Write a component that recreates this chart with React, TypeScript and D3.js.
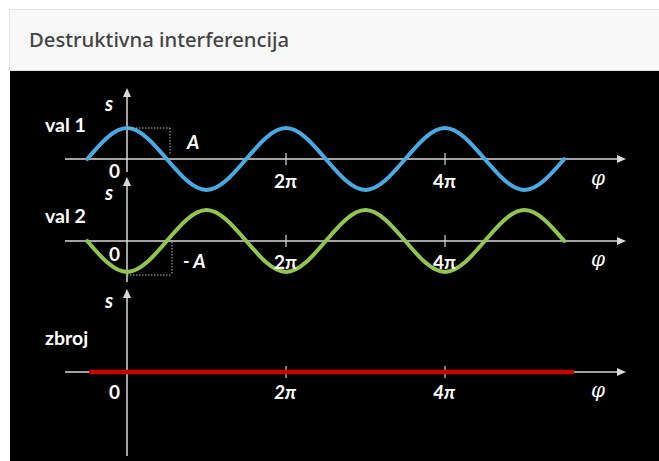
import React, { useEffect, useRef } from 'react';
import * as d3 from 'd3';

// phase in units of pi, sampled every half period
const phi = [-0.5, 0, 0.5, 1, 1.5, 2, 2.5, 3, 3.5, 4, 4.5, 5, 5.5];
const wave1 = [0, 1, 0, -1, 0, 1, 0, -1, 0, 1, 0, -1, 0];
const wave2 = [0, -1, 0, 1, 0, -1, 0, 1, 0, -1, 0, 1, 0];
const sumPhi = [-0.45, 5.6];
const sumValues = [0, 0];
const tickValues = [0, 2, 4];
const tickLabels = ['0', '2π', '4π'];
const panelNames = ['val 1', 'val 2', 'zbroj'];

const W = 659;
const H = 461;

const App = () => {
  const ref = useRef<SVGSVGElement | null>(null);

  useEffect(() => {
    const svg = d3.select(ref.current);
    svg.selectAll('*').remove();

    // card header
    svg.append('rect').attr('x', 9.5).attr('y', 9.5).attr('width', W).attr('height', 61)
      .attr('fill', '#f8f8f8').attr('stroke', '#e4e4e4');
    svg.append('text').attr('x', 29).attr('y', 47)
      .attr('font-family', "'Noto Sans', sans-serif").attr('font-size', 19).attr('font-weight', 500)
      .attr('fill', '#444').attr('textLength', 260).attr('lengthAdjust', 'spacingAndGlyphs')
      .text('Destruktivna interferencija');

    // black picture
    svg.append('rect').attr('x', 10).attr('y', 71).attr('width', W - 10).attr('height', H - 71).attr('fill', '#000');

    const x = d3.scaleLinear().domain([0, 4]).range([127, 445]);
    const axisColor = '#d9d9d9';
    const font = "Lato, 'Noto Sans', sans-serif";

    const panels = [
      { data: wave1, phase: phi, color: '#4aa9e0', y: d3.scaleLinear().domain([-1, 1]).range([190, 128]), vTop: 88, vBot: 172, labelY: 132, sY: 111, numY: 188, italicTicks: false, phiY: 185, zeroY: 178 },
      { data: wave2, phase: phi, color: '#92c353', y: d3.scaleLinear().domain([-1, 1]).range([272, 210]), vTop: 177, vBot: 282, labelY: 223, sY: 200, numY: 269, italicTicks: false, phiY: 266, zeroY: 261 },
      { data: sumValues, phase: sumPhi, color: '#c80000', y: d3.scaleLinear().domain([-1, 1]).range([403, 341]), vTop: 289, vBot: 456, labelY: 345, sY: 308, numY: 399, italicTicks: true, phiY: 397, zeroY: 399 },
    ];

    const arrow = (px: number, py: number, dir: 'up' | 'right') => {
      const p = dir === 'up'
        ? [[px, py], [px - 4, py + 9], [px + 4, py + 9]]
        : [[px, py], [px - 9, py - 4], [px - 9, py + 4]];
      svg.append('polygon').attr('points', p.map(d => d.join(',')).join(' ')).attr('fill', axisColor);
    };

    panels.forEach((pn, i) => {
      const y0 = pn.y(0);
      // horizontal axis
      svg.append('line').attr('x1', 65).attr('x2', 618).attr('y1', y0).attr('y2', y0)
        .attr('stroke', axisColor).attr('stroke-width', 1.5);
      arrow(626, y0, 'right');
      // vertical axis
      svg.append('line').attr('x1', x(0)).attr('x2', x(0)).attr('y1', pn.vTop + 6).attr('y2', pn.vBot)
        .attr('stroke', axisColor).attr('stroke-width', 1.5);
      arrow(x(0), pn.vTop, 'up');
      // ticks at 2pi, 4pi
      tickValues.slice(1).forEach(t => {
        svg.append('line').attr('x1', x(t)).attr('x2', x(t)).attr('y1', y0 - 6).attr('y2', y0 + 6)
          .attr('stroke', axisColor).attr('stroke-width', 1.2);
      });

      // curve
      const pts = pn.data.map((v, j) => [pn.phase[j], v] as [number, number]);
      const line = d3.line<[number, number]>()
        .x(d => x(d[0])).y(d => pn.y(d[1]))
        .curve(d3.curveNatural);
      svg.append('path').attr('d', line(pts)).attr('fill', 'none')
        .attr('stroke', pn.color).attr('stroke-width', i === 2 ? 4.5 : 4).attr('stroke-linecap', 'round');

      // labels
      svg.append('text').attr('x', 45).attr('y', pn.labelY)
        .attr('font-family', font).attr('font-weight', 700).attr('font-size', 19.5).attr('fill', '#fff')
        .text(panelNames[i]);
      svg.append('text').attr('x', 105).attr('y', pn.sY)
        .attr('font-family', font).attr('font-weight', 700).attr('font-style', 'italic').attr('font-size', 20).attr('fill', '#fff')
        .text('s');
      tickLabels.forEach((lab, k) => {
        const t = tickValues[k];
        svg.append('text')
          .attr('x', t === 0 ? 109 : x(t) - 12)
          .attr('y', t === 0 ? pn.zeroY : pn.numY)
          .attr('font-family', font).attr('font-weight', 700).attr('font-size', 19).attr('fill', '#fff')
          .attr('font-style', pn.italicTicks && t !== 0 ? 'italic' : 'normal')
          .text(lab);
      });
      svg.append('text').attr('x', 591).attr('y', pn.phiY)
        .attr('font-family', "'DejaVu Serif', serif").attr('font-style', 'italic').attr('font-size', 20).attr('fill', '#fff')
        .text('φ');
    });

    // amplitude markers
    const dotted = (x1: number, y1: number, x2: number, y2: number) =>
      svg.append('line').attr('x1', x1).attr('y1', y1).attr('x2', x2).attr('y2', y2)
        .attr('stroke', '#bbb').attr('stroke-width', 1).attr('stroke-dasharray', '1.5,1.5');
    const p1 = panels[0].y;
    dotted(x(0), p1(1), 170, p1(1));
    dotted(170, p1(1), 170, p1(0) - 4);
    svg.append('text').attr('x', 187).attr('y', 149)
      .attr('font-family', font).attr('font-weight', 700).attr('font-style', 'italic').attr('font-size', 19).attr('fill', '#fff')
      .text('A');
    const p2 = panels[1].y;
    dotted(x(0), p2(-1) + 3, 172, p2(-1) + 3);
    dotted(172, p2(0) + 1, 172, p2(-1) + 3);
    svg.append('text').attr('x', 183).attr('y', 268)
      .attr('font-family', font).attr('font-weight', 700).attr('font-style', 'italic').attr('font-size', 19).attr('fill', '#fff')
      .text('- A');
  }, []);

  return <svg ref={ref} width={W} height={H} style={{ position: 'absolute', left: 0, top: 0, background: '#fff' }} />;
};

export default App;
